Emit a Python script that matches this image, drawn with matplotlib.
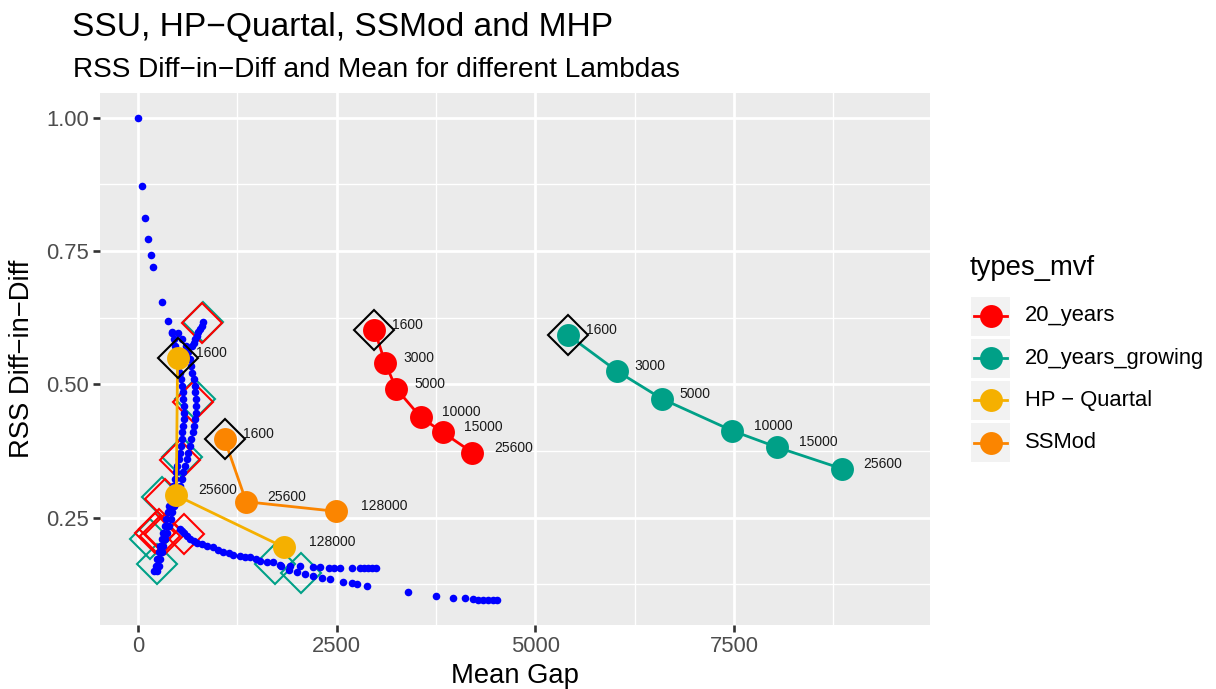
import matplotlib
matplotlib.use("Agg")
import matplotlib.pyplot as plt
from matplotlib.patches import Rectangle
from matplotlib.lines import Line2D

plt.rcParams['font.family'] = ['Liberation Sans', 'DejaVu Sans']

W, H = 1216, 689

# smoothing results, one point per lambda
lambdas_years = ['1600', '3000', '5000', '10000', '15000', '25600']
gap_years = [2976, 3111, 3249, 3560, 3836, 4209]
rss_years = [0.602, 0.540, 0.492, 0.438, 0.410, 0.372]

lambdas_growing = ['1600', '3000', '5000', '10000', '15000', '25600']
gap_growing = [5416, 6025, 6591, 7479, 8045, 8855]
rss_growing = [0.592, 0.525, 0.473, 0.413, 0.382, 0.342]

lambdas_hp = ['1600', '25600', '128000']
gap_hp = [498, 482, 1832]
rss_hp = [0.550, 0.292, 0.195]

lambdas_ssmod = ['1600', '25600', '128000']
gap_ssmod = [1089, 1362, 2494]
rss_ssmod = [0.397, 0.280, 0.262]

# MHP grid search (blue cloud): sparse head, dense band, tail
head_gap = [0, 45, 92, 130, 162, 192, 300, 380, 425]
head_rss = [1.000, 0.872, 0.812, 0.773, 0.742, 0.720, 0.654, 0.618, 0.598]

band_rss = [0.597, 0.585, 0.572, 0.560, 0.547, 0.535, 0.522, 0.510, 0.497, 0.485,
            0.472, 0.460, 0.447, 0.435, 0.422, 0.410, 0.397, 0.385, 0.372, 0.360,
            0.347, 0.335, 0.322, 0.310, 0.297, 0.285, 0.272, 0.260, 0.247, 0.235,
            0.222, 0.210, 0.197, 0.185, 0.172, 0.160, 0.150]
band_gap_lo = [431, 450, 470, 490, 505, 520, 533, 545, 555, 565,
               572, 578, 582, 578, 570, 560, 550, 538, 525, 510,
               495, 480, 462, 445, 428, 410, 392, 375, 358, 340,
               320, 300, 280, 262, 245, 225, 200]
band_gap_hi = [507, 560, 600, 630, 655, 672, 685, 700, 712, 720,
               726, 731, 733, 720, 705, 690, 672, 650, 630, 612,
               590, 570, 550, 525, 500, 478, 455, 432, 410, 390,
               370, 345, 318, 300, 282, 262, 240]

branch_gap = [680, 700, 720, 740, 760, 780, 800, 820]
branch_rss = [0.572, 0.578, 0.585, 0.591, 0.598, 0.604, 0.610, 0.616]

tail_gap = [532, 560, 580, 620, 660, 700, 747, 800, 872, 948, 1010, 1074, 1140,
            1199, 1287, 1350, 1413, 1480, 1538, 1620, 1702,
            1790, 1915, 2040, 2204, 2292, 2400, 2470, 2544, 2695, 2795, 2845, 2896,
            2946, 3000,
            1800, 1900, 2003, 2105, 2204, 2318, 2418, 2582, 2695, 2758, 2884,
            3400, 3752, 3966, 4117, 4218, 4280, 4343, 4406, 4469, 4520]
tail_rss = [0.228, 0.225, 0.222, 0.215, 0.211, 0.207, 0.203, 0.200, 0.197, 0.195,
            0.190, 0.185, 0.183, 0.181, 0.178, 0.177, 0.176, 0.172, 0.169, 0.168,
            0.167,
            0.161, 0.159, 0.159, 0.157, 0.157, 0.156, 0.155, 0.155, 0.155, 0.155,
            0.155, 0.155, 0.155, 0.155,
            0.160, 0.153, 0.148, 0.144, 0.140, 0.137, 0.135, 0.130, 0.128, 0.125,
            0.122,
            0.110, 0.103, 0.100, 0.099, 0.097, 0.096, 0.096, 0.095, 0.095, 0.095]

# selected MHP settings per data set (open diamonds)
sel_gap_years = [805, 692, 532, 343, 218, 280, 343, 259, 574]
sel_rss_years = [0.6145, 0.467, 0.358, 0.285, 0.222, 0.216, 0.219, 0.228, 0.219]
sel_gap_growing = [813, 721, 553, 302, 155, 239, 1727, 2052]
sel_rss_growing = [0.616, 0.472, 0.363, 0.288, 0.210, 0.163, 0.163, 0.147]

series = [
    ('20_years', '#FF0000', gap_years, rss_years, lambdas_years),
    ('20_years_growing', '#00A087', gap_growing, rss_growing, lambdas_growing),
    ('HP \u2212 Quartal', '#F5B000', gap_hp, rss_hp, lambdas_hp),
    ('SSMod', '#FB8500', gap_ssmod, rss_ssmod, lambdas_ssmod),
]

fig = plt.figure(figsize=(W / 100, H / 100), dpi=100)
ax = fig.add_axes([100 / W, 1 - 625 / H, 830 / W, 532 / H])
ax.set_facecolor('#EBEBEB')
for s in ax.spines.values():
    s.set_visible(False)

ax.set_xlim(-478, 9966)
ax.set_ylim(0.049, 1.046)
ax.set_xticks([0, 2500, 5000, 7500])
ax.set_yticks([0.25, 0.50, 0.75, 1.00])
ax.set_yticklabels(['0.25', '0.50', '0.75', '1.00'])
ax.set_xticks([1250, 3750, 6250, 8750], minor=True)
ax.set_yticks([0.125, 0.375, 0.625, 0.875], minor=True)
ax.grid(which='major', color='white', linewidth=1.95)
ax.grid(which='minor', color='white', linewidth=0.95)
ax.set_axisbelow(True)
ax.tick_params(which='major', length=4.9, width=1.9, color='#333333',
               labelsize=15.8, labelcolor='#4D4D4D', pad=3)
ax.tick_params(which='minor', length=0)

# open diamonds for the chosen settings
ax.plot(sel_gap_growing, sel_rss_growing, 'D', ms=20, mfc='none', mec='#00A087',
        mew=1.5, ls='none', zorder=2)
ax.plot(sel_gap_years, sel_rss_years, 'D', ms=20, mfc='none', mec='#FF0000',
        mew=1.5, ls='none', zorder=2)

blue = dict(s=30, color='#0000FF', linewidths=0, zorder=3)
ax.scatter(head_gap, head_rss, **blue)
ax.scatter(band_gap_lo, band_rss, **blue)
ax.scatter(band_gap_hi, band_rss, **blue)
ax.scatter(branch_gap, branch_rss, **blue)
ax.scatter(tail_gap, tail_rss, **blue)

for name, col, gx, ry, labs in series:
    ax.plot(gx, ry, '-', color=col, lw=2, zorder=4)
    ax.plot(gx, ry, 'o', color=col, ms=16.5, mew=0, zorder=5)
    ax.plot(gx[0], ry[0], 'D', ms=20, mfc='none', mec='black', mew=1.5, zorder=6)
    for x, y, lab in zip(gx, ry, labs):
        off = 3.5 * len(lab) + 4
        ax.annotate(lab, (x, y), xytext=(off * 0.72, 3.6), textcoords='offset points',
                    ha='left', va='center', fontsize=10, color='#1A1A1A', zorder=7)

ax.set_xlabel('Mean Gap', fontsize=19.7, labelpad=4)
ax.set_ylabel('RSS Diff\u2212in\u2212Diff', fontsize=19.7, labelpad=8)

fig.text(72 / W, 1 - 36 / H, 'SSU, HP\u2212Quartal, SSMod and MHP', fontsize=24.1,
         ha='left', va='baseline')
fig.text(73 / W, 1 - 77 / H, 'RSS Diff\u2212in\u2212Diff and Mean for different Lambdas',
         fontsize=20.2, ha='left', va='baseline')

# legend drawn in pixel space
lg = fig.add_axes([0, 0, 1, 1], facecolor='none')
lg.set_xlim(0, W)
lg.set_ylim(H, 0)
lg.axis('off')
lg.text(970, 268, 'types_mvf', fontsize=19.7, ha='left', va='center')
for i, (name, col, gx, ry, labs) in enumerate(series):
    cy = 316 + 42.2 * i
    lg.add_patch(Rectangle((971, cy - 19.5), 39, 39, facecolor='#F2F2F2', edgecolor='none'))
    lg.add_line(Line2D([974, 1007], [cy, cy], color=col, lw=2))
    lg.plot(990.5, cy, 'o', color=col, ms=16.5, mew=0)
    lg.text(1025, cy, name, fontsize=15.8, ha='left', va='center')

fig.savefig('out.png', dpi=100)
